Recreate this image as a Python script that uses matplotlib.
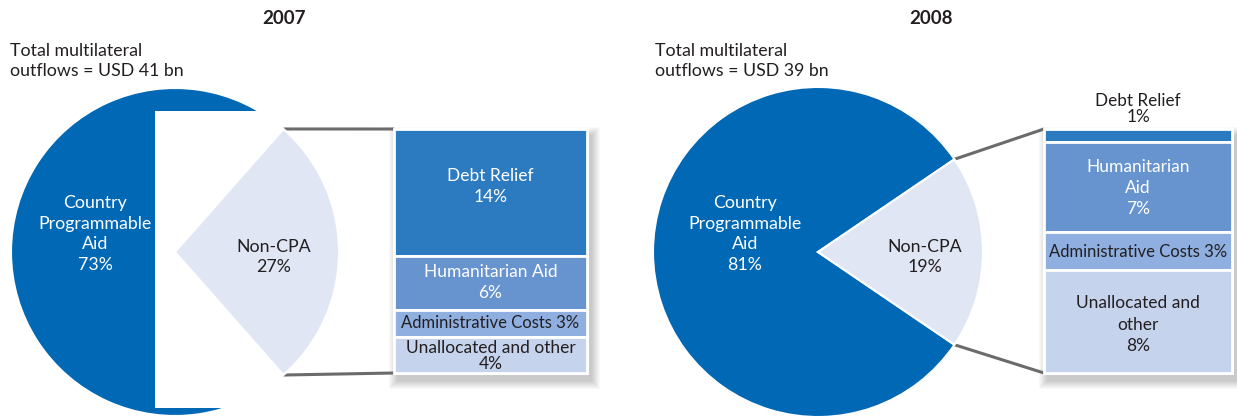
import math
import matplotlib.pyplot as plt
from matplotlib.patches import Rectangle

plt.rcParams['font.family'] = ['Lato', 'DejaVu Sans']

# data
years = ['2007', '2008']
totals = ['USD 41 bn', 'USD 39 bn']
cpa_share = [73, 81]
noncpa_share = [27, 19]
names_2007 = ['Debt Relief', 'Humanitarian Aid', 'Administrative Costs', 'Unallocated and other']
names_2008 = ['Debt Relief', 'Humanitarian\nAid', 'Administrative Costs', 'Unallocated and\nother']
values_2007 = [14, 6, 3, 4]
values_2008 = [1, 7, 3, 8]

# colours
c_cpa = '#0068b4'
c_noncpa = '#e0e6f4'
c_parts = ['#2c7bc1', '#6794cf', '#8eafdf', '#c6d3ed']
c_text = '#231f20'
fs = 12.8

fig = plt.figure(figsize=(12.37, 4.16), dpi=100)
ax = fig.add_axes([0, 0, 1, 1])

# per-panel layout (pixels)
panels = [
    dict(cx=175, cy=252, r=164, title_x=284, note_x=10, bar=(394, 587),
         names=names_2007, values=values_2007, seps=['\n', '\n', ' ', '\n'],
         cpa_xy=(95, 234), non_xy=(274, 257), blank=True, dy=[-6, 0, 0, 1],
         text_cols=['white', 'white', c_text, c_text], outside=[False] * 4),
    dict(cx=818, cy=252, r=165, title_x=931, note_x=655, bar=(1044, 1232),
         names=names_2008, values=values_2008, seps=['\n', '\n', ' ', '\n'],
         cpa_xy=(745, 234), non_xy=(925, 257), blank=False, dy=[0, 1, 1, 3],
         text_cols=[c_text, 'white', c_text, c_text], outside=[True, False, False, False]),
]

bar_top, bar_bot = 129, 373

for i, p in enumerate(panels):
    cx, cy, r = p['cx'], p['cy'], p['r']
    half = noncpa_share[i] * 1.8
    wedges, _ = ax.pie([noncpa_share[i], cpa_share[i]], colors=[c_noncpa, c_cpa],
                       startangle=-half, center=(cx, cy), radius=r,
                       wedgeprops=dict(edgecolor='white', linewidth=1.5))
    wedges[0].set_zorder(3)
    wedges[1].set_zorder(1)

    if p['blank']:
        # white block sitting over the big slice
        ax.add_patch(Rectangle((155, 111), 140, 297, facecolor='white',
                               edgecolor='none', zorder=2))

    ax.text(p['title_x'], 18, years[i], ha='center', va='center',
            fontsize=13.5, fontweight='bold', color=c_text)
    ax.text(p['note_x'], 61, 'Total multilateral\noutflows = ' + totals[i],
            ha='left', va='center', fontsize=fs, color=c_text, linespacing=1.3)

    ax.text(*p['cpa_xy'], 'Country\nProgrammable\nAid\n%d%%' % cpa_share[i],
            ha='center', va='center', fontsize=fs, color='white',
            linespacing=1.34, zorder=5)
    ax.text(*p['non_xy'], 'Non-CPA\n%d%%' % noncpa_share[i],
            ha='center', va='center', fontsize=fs, color=c_text,
            linespacing=1.34, zorder=5)

    # stacked bar for the non-CPA slice
    x0, x1 = p['bar']
    vals = p['values']
    scale = (bar_bot - bar_top) / sum(vals)
    heights = [v * scale for v in vals]
    tops = [bar_top + sum(heights[:k]) for k in range(len(heights))]

    # soft drop shadow
    for k in range(1, 10):
        ax.add_patch(Rectangle((x0 + 4 - k, bar_top + 7 - k), (x1 - x0) + 2 * k,
                               (bar_bot - bar_top) + 2 * k, facecolor='#000000',
                               alpha=0.025, edgecolor='none', zorder=1))
    ax.add_patch(Rectangle((x0 - 1.5, bar_top - 1.5), (x1 - x0) + 3,
                           (bar_bot - bar_top) + 3, facecolor='white',
                           edgecolor='none', zorder=2))
    ax.bar((x0 + x1) / 2, heights, width=x1 - x0, bottom=tops, color=c_parts,
           edgecolor='white', linewidth=2, zorder=3)

    for k, (name, v) in enumerate(zip(p['names'], vals)):
        label = name + p['seps'][k] + '%d%%' % v
        if p['outside'][k]:
            ax.text((x0 + x1) / 2, tops[k] - 20, label, ha='center', va='center',
                    fontsize=12.3, color=p['text_cols'][k], linespacing=1.0, zorder=5)
        else:
            ax.text((x0 + x1) / 2, tops[k] + heights[k] / 2 + p['dy'][k], label,
                    ha='center', va='center',
                    fontsize=12 if k == 2 else 12.5, color=p['text_cols'][k],
                    linespacing=1.02 if heights[k] < 45 else 1.4, zorder=5)

    # connector lines from slice edge to bar
    ex = cx + r * math.cos(math.radians(half))
    ey = r * math.sin(math.radians(half))
    ax.plot([ex, x0], [cy - ey, bar_top], color='#6b6b6b', lw=2.2, zorder=2,
            solid_capstyle='butt')
    ax.plot([ex, x0], [cy + ey, bar_bot], color='#6b6b6b', lw=2.2, zorder=2,
            solid_capstyle='butt')

ax.set_xlim(0, 1237)
ax.set_ylim(416, 0)
ax.set_aspect('equal')
ax.axis('off')

fig.savefig('out.png', dpi=100)
